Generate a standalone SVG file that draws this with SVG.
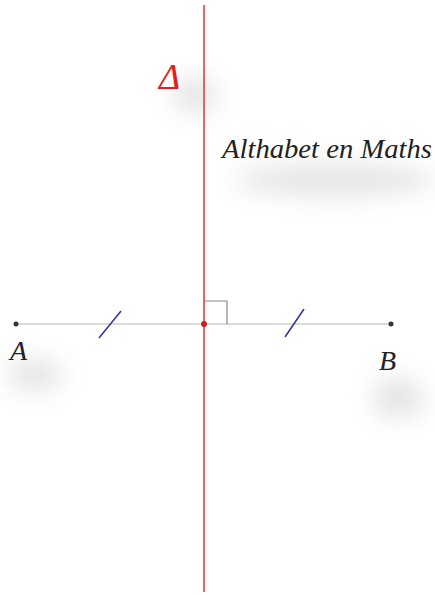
<svg xmlns="http://www.w3.org/2000/svg" width="435" height="595" viewBox="0 0 435 595">
<defs>
<filter id="blur" x="-50%" y="-100%" width="200%" height="300%"><feGaussianBlur stdDeviation="12"/></filter>
<style>
.lbl{font-family:"Liberation Serif",serif;font-style:italic;}
.tick{stroke:#3030a0;stroke-width:1.5;}
.pt{fill:#333;}
</style>
</defs>
<rect width="435" height="595" fill="#ffffff"/>
<g id="shadows" filter="url(#blur)" opacity="0.22">
<ellipse cx="195" cy="95" rx="22" ry="18" fill="#888"/>
<ellipse cx="335" cy="180" rx="100" ry="16" fill="#888"/>
<ellipse cx="35" cy="375" rx="28" ry="16" fill="#888"/>
<ellipse cx="398" cy="398" rx="26" ry="20" fill="#888"/>
</g>
<g id="connectors">
<line x1="16" y1="324" x2="391" y2="324" stroke="#b8b8b8" stroke-width="1.2"/>
<polyline points="204,301 227,301 227,324" fill="none" stroke="#888" stroke-width="1.2"/>
<line class="tick" x1="99" y1="338" x2="121" y2="311"/>
<line class="tick" x1="285" y1="337" x2="304" y2="309"/>
<line x1="204" y1="5" x2="204" y2="592" stroke="#f05050" stroke-width="1.8"/>
</g>
<g id="A"><circle class="pt" cx="16" cy="324" r="2.5"/><text class="lbl" x="10" y="360" font-size="28" fill="#222">A</text></g>
<g id="B"><circle class="pt" cx="391" cy="324" r="2.5"/><text class="lbl" x="379" y="370" font-size="28" fill="#222">B</text></g>
<g id="M"><circle cx="204" cy="324" r="3" fill="#cc2020"/></g>
<g id="delta"><text class="lbl" x="159" y="89" font-size="36" fill="#e02020">Δ</text></g>
<g id="title"><text class="lbl" x="222" y="158" font-size="28" fill="#222" textLength="210" lengthAdjust="spacingAndGlyphs">Althabet en Maths</text></g>
</svg>
